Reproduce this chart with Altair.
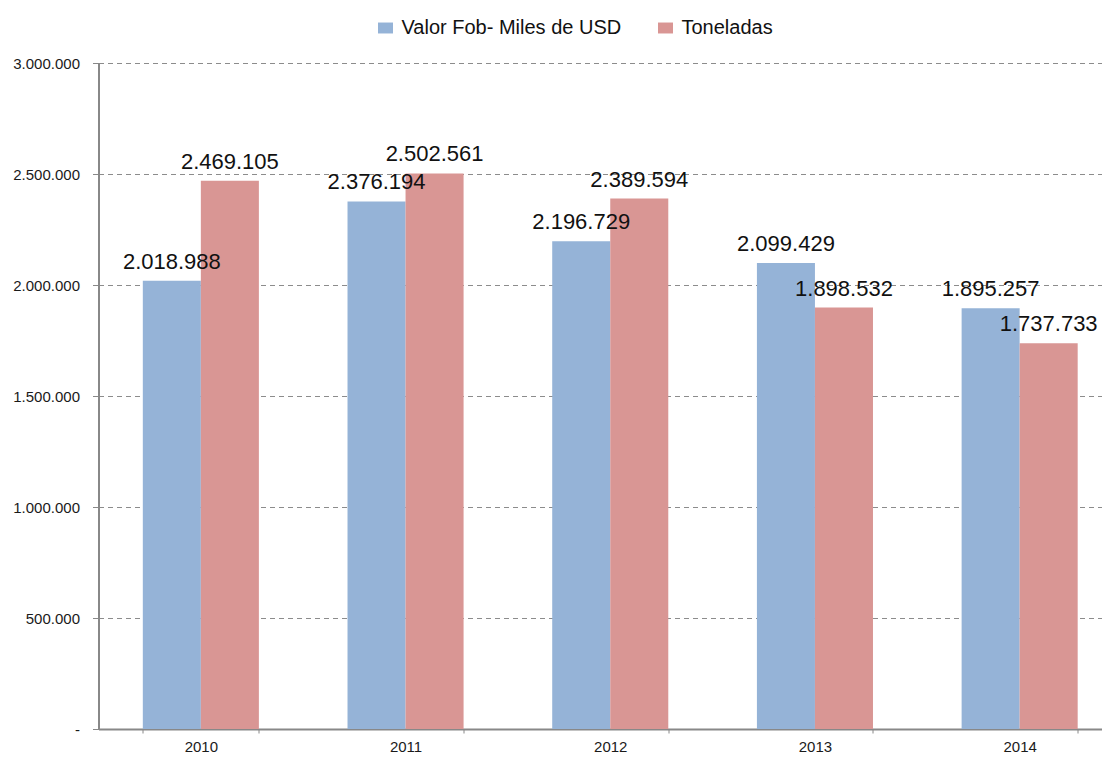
import altair as alt
import pandas as pd

years = ["2010", "2011", "2012", "2013", "2014"]
valor_fob = [2018988, 2376194, 2196729, 2099429, 1895257]
toneladas = [2469105, 2502561, 2389594, 1898532, 1737733]
series_names = ["Valor Fob- Miles de USD", "Toneladas"]
colors = ["#95B3D7", "#D99694"]
y_ticks = [0, 500000, 1000000, 1500000, 2000000, 2500000, 3000000]

rows = []
for i, yr in enumerate(years):
    rows.append({"year": yr, "series": series_names[0], "value": valor_fob[i]})
    rows.append({"year": yr, "series": series_names[1], "value": toneladas[i]})
df = pd.DataFrame(rows)

FONT = "Liberation Sans"
PLOT_W = 1003
PLOT_H = 666
BAND_RANGE = 1023.5  # category bands continue past the right edge (cropped like the original)

x = alt.X(
    "year:N", sort=years,
    scale=alt.Scale(range=[0, BAND_RANGE], paddingInner=0.433, paddingOuter=0.2165),
    axis=alt.Axis(title=None, tickBand="extent", labelAngle=0, labelFontSize=15,
                  labelFont=FONT, labelPadding=6, tickSize=4, tickColor="#888888",
                  domainColor="#888888", domainWidth=2, labelColor="#1a1a1a", grid=False),
)
xo = alt.XOffset("series:N", sort=series_names, scale=alt.Scale(paddingInner=0, paddingOuter=0))
y = alt.Y(
    "value:Q",
    scale=alt.Scale(domain=[0, 3000000], nice=False),
    axis=alt.Axis(title=None, values=y_ticks, format=",d",
                  labelExpr="datum.value == 0 ? '-\u00a0\u00a0' : datum.label",
                  labelFontSize=15, labelFont=FONT, labelColor="#1a1a1a", labelPadding=13,
                  tickSize=6, tickColor="#888888", domainColor="#888888", domainWidth=2,
                  grid=True, gridDash=[5, 4], gridColor="#8c8c8c", gridWidth=1),
)

bars = alt.Chart(df).mark_bar().encode(
    x=x, xOffset=xo, y=y,
    color=alt.Color(
        "series:N", sort=series_names,
        scale=alt.Scale(domain=series_names, range=colors),
        legend=alt.Legend(orient="none", legendX=277, legendY=-45, direction="horizontal",
                          title=None, labelFontSize=20, labelFont=FONT, labelColor="#111111",
                          labelLimit=500, padding=0,
                          symbolType="M-1,-0.73H1V0.73H-1Z", symbolSize=225,
                          symbolStrokeWidth=0, symbolOpacity=1, labelOffset=6, columnPadding=34),
    ),
)

labels = alt.Chart(df).mark_text(
    dy=-12, baseline="alphabetic", fontSize=22, font=FONT, color="#111111"
).encode(
    x=alt.X("year:N", sort=years), xOffset=alt.XOffset("series:N", sort=series_names),
    y=alt.Y("value:Q"),
    text=alt.Text("value:Q", format=",d"),
)

chart = alt.layer(bars, labels).properties(
    width=PLOT_W, height=PLOT_H,
    autosize=alt.AutoSizeParams(type="none"),
    padding={"left": 90.5, "top": 55, "right": 0, "bottom": 28},
    background="white",
).configure(
    locale={"number": {"decimal": ",", "thousands": ".", "grouping": [3], "currency": ["", ""]}}
).configure_view(stroke=None)

chart.save("out.html", embed_options={"renderer": "svg", "actions": False})
